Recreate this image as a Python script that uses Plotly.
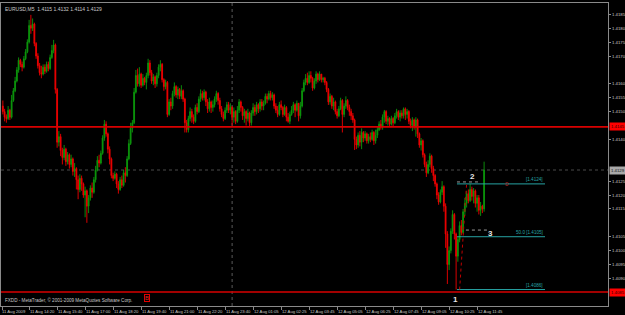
import plotly.graph_objects as go

# ---------------- data (prices in pips above 1.4000) ----------------
BASE = 1.4
PIP = 0.0001

first_open_pips = 152.0
close_pips = [
    150, 148, 147.5, 150.5, 148, 154, 157.5, 161, 165, 168.5,
    167, 166, 169, 171.5, 175, 181, 180, 181.5, 174.5, 170,
    166.5, 164, 163.5, 166, 164.5, 167, 165.5, 169.5, 172, 174,
    158, 139, 141, 136, 133.5, 136.5, 132, 134.5, 131, 133,
    128.5, 129.5, 125.5, 122, 126, 124, 120, 121.5, 116, 119,
    122.5, 121, 125.5, 129, 132.5, 131.5, 135, 140.5, 145.5, 142,
    136.5, 133, 127, 126, 127.5, 124, 122, 125.5, 123.5, 128,
    127, 133, 138.5, 144, 146, 157, 163, 160, 163.5, 159.5,
    162, 160.5, 163, 167.5, 164, 161, 162.5, 160, 163, 166,
    167, 161.5, 159, 160.5, 149, 153.5, 152, 156.5, 159, 156,
    158, 155.5, 157.5, 154.5, 146, 143.5, 147.5, 150, 148, 146.5,
    151.5, 150, 154.5, 156.5, 155, 157, 153.5, 151, 153.5, 151.5,
    152.5, 154.5, 156.5, 154, 151, 149, 147.5, 150.5, 152.5, 150.5,
    151.5, 148, 150, 146.5, 150.5, 153.5, 151.5, 148.5, 150, 147.5,
    149.5, 146, 149.5, 151.5, 150, 152.5, 151, 153.5, 152, 153,
    155.5, 154.5, 156.5, 155, 156, 152, 150.5, 149, 152.5, 151.5,
    149, 151.5, 148, 146.5, 149, 150.5, 152.5, 150.5, 153, 148.5,
    152, 157.5, 160.5, 162, 160.5, 163, 162, 158.5, 161, 163.5,
    161.5, 163.5, 161.5, 162, 160.5, 158, 153.5, 155.5, 152, 153.5,
    150, 148.5, 151, 154, 149, 152, 154, 151.5, 150, 148.5,
    147, 140, 138, 141.5, 139, 142.5, 140.5, 142, 139.5, 141,
    140, 142.5, 139.5, 141.5, 143.5, 145.5, 144.5, 148, 150, 146.5,
    147.5, 145.5, 147.5, 146, 148.5, 150, 148, 149.5, 148.5, 151,
    149, 150, 146.5, 145, 147, 144.5, 147, 142, 138, 139.5,
    134.5, 131, 128, 131, 134, 129.5, 127, 124, 120, 117.5,
    121, 123, 116, 106, 95, 100, 107, 113, 106, 98,
    104, 109, 106.5, 114, 117, 120.5, 118, 122, 119.5, 121.5,
    117, 119, 114.5, 116, 115, 129,
]
high_pips = [
    154, 151, 149, 152, 151, 156, 158.5, 162.5, 166, 169.5,
    169, 168, 170, 172.5, 176, 183, 184.8, 183.5, 182, 175,
    171, 167.5, 166.5, 167, 167, 168, 168, 170.5, 174, 175.8,
    174.5, 158.5, 143, 142, 137, 138, 137, 135.5, 135, 134.5,
    133.5, 131.5, 130, 127, 127.5, 127, 124.5, 123, 122, 120,
    123.5, 124.5, 126.5, 130.5, 134, 134.5, 136, 141.5, 147, 146.5,
    142.5, 137.5, 133.5, 128, 128.5, 128, 125, 126.5, 127, 129,
    130, 134, 140, 146, 147, 158.5, 165, 165.5, 166, 164,
    163.5, 162.5, 164, 169, 168.5, 165, 163.5, 163, 164, 167,
    168.5, 167.5, 162, 161.5, 161, 154.5, 155, 157.5, 160.5, 159.5,
    159, 158.5, 159.5, 158, 155, 147, 148.5, 151.5, 151, 149,
    152.5, 153, 155.5, 158, 157.5, 158, 157.5, 154.5, 155, 154,
    154, 155.5, 157.5, 157, 155, 152, 150, 151.5, 153.5, 153.5,
    153, 152, 151.5, 150.5, 152, 154.5, 154, 152, 151, 150.5,
    151, 150, 150.5, 153, 152.5, 153.5, 153, 154.5, 154.5, 154,
    156.5, 156.5, 157.5, 157.5, 157, 156.5, 153, 152, 153.5, 154,
    152, 152.5, 152, 149.5, 150, 152, 153.5, 153, 154, 153,
    153.5, 158.5, 161.5, 163.5, 164, 164.5, 164.5, 162.5, 162, 164.5,
    164, 164.5, 163.5, 162.5, 162.5, 161, 158.5, 156.5, 156, 155,
    154, 151, 152, 155, 154.5, 153, 155.5, 154.5, 152.5, 151,
    149.5, 147.5, 141, 142.5, 143, 144, 143, 143, 142.5, 142,
    142.5, 143.5, 143, 143.5, 144.5, 146.5, 147, 149, 150.6, 150.5,
    148.5, 148, 148.5, 148, 149.5, 151, 150.5, 150.5, 150.5, 151.5,
    151.5, 151, 150.5, 147.5, 148, 147.5, 148, 147.5, 142.5, 140.5,
    140, 135, 132, 132.5, 135, 134.5, 130.5, 127.5, 124.5, 121,
    122, 125, 123.5, 117, 107, 101.5, 108, 114.5, 113.5, 106.5,
    105, 110.5, 111, 115, 119, 121.5, 122, 124, 123, 122.5,
    122, 120, 120, 117.5, 116.5, 132,
]
low_pips = [
    149, 146.5, 146, 147, 147, 147.5, 153.5, 157, 160.5, 164,
    166, 164.5, 165.5, 168.5, 171, 174.5, 178, 179, 173.5, 169,
    165.5, 163, 162, 163, 163.5, 164, 164.5, 165, 169, 171,
    156.5, 137, 137.5, 134, 131, 132.5, 130.5, 131, 129.5, 130,
    127, 126.5, 122, 118.5, 121, 121.5, 119, 112, 110, 113.5,
    118, 119, 120.5, 124.5, 128.5, 130, 131, 134.5, 139.5, 141,
    135, 131, 126, 125, 125.5, 122.5, 120.5, 121.5, 122.5, 123,
    124.5, 126.5, 132.5, 138, 142.5, 145.5, 156.5, 159, 159, 158.5,
    159, 159.5, 158, 162, 163, 160, 159.5, 158.5, 159, 162,
    164.5, 160.5, 157.5, 158, 148, 148.5, 150.5, 151, 155.5, 155,
    154.5, 154.5, 154.5, 153.5, 142.5, 142.5, 142.5, 146.5, 146, 145.5,
    146, 149, 149.5, 153.5, 154, 154, 152, 149.5, 150, 149.5,
    150, 151.5, 153.5, 152.5, 150, 148, 146.5, 147, 149.5, 149.5,
    149, 145, 146, 145.5, 146, 149.5, 150, 147, 146, 145,
    146.5, 144.5, 145, 148.5, 148.5, 149, 149.5, 150, 150.5, 150.5,
    152.5, 153, 154, 154, 154, 151, 149.5, 148, 148.5, 150.5,
    148, 148.5, 146.5, 146, 145.5, 148.5, 149.5, 148, 150, 146.5,
    147.5, 151.5, 157, 159.5, 159.5, 160, 160.5, 157.5, 158, 160,
    160.5, 161, 160.5, 160.5, 159.5, 157, 152.4, 152.5, 151, 150.5,
    149, 147.5, 148, 150.5, 142.5, 148, 151, 150.5, 148.5, 147,
    146, 136.2, 136.5, 137, 137.5, 136.5, 139, 139.5, 138.5, 138.5,
    139, 139.5, 138, 138.5, 140.5, 143, 143.5, 143.5, 146, 145.5,
    145, 144.5, 145, 144.5, 145.5, 147.5, 147, 146.5, 147.5, 147.5,
    147, 147.5, 145.5, 144, 143, 143.5, 141, 140.5, 137, 136,
    133.5, 130, 126.5, 127.5, 130, 128, 125, 123, 118.5, 116.5,
    117, 120, 114, 101, 88, 93, 99, 106, 104, 86,
    96, 103, 105.5, 106, 112.5, 115.5, 117, 117.5, 118, 117,
    115.5, 114, 113, 112.5, 113.5, 114,
]

time_label_bars = [0, 15, 31, 47, 63, 79, 95, 111, 127, 143, 159, 175, 191, 207, 223, 239, 255, 271]
time_labels = ["11 Aug 2009", "11 Aug 14:20", "11 Aug 15:40", "11 Aug 17:00", "11 Aug 18:20",
               "11 Aug 19:40", "11 Aug 21:00", "11 Aug 22:20", "11 Aug 23:40", "12 Aug 01:05",
               "12 Aug 02:25", "12 Aug 03:45", "12 Aug 05:05", "12 Aug 06:25", "12 Aug 07:45",
               "12 Aug 09:05", "12 Aug 10:25", "12 Aug 11:45"]

price_ticks = [1.4185, 1.4180, 1.4175, 1.4170, 1.4160, 1.4155, 1.4150, 1.4140,
               1.4125, 1.4120, 1.4115, 1.4105, 1.4100, 1.4095, 1.4090]
price_tick_labels = ["1.4185", "1.4180", "1.4175", "1.4170", "1.4160", "1.4155", "1.4150", "1.4140",
                     "1.4125", "1.4120", "1.4115", "1.4105", "1.4100", "1.4095", "1.4090"]

header_text = "EURUSD,M5  1.4115 1.4132 1.4114 1.4129"
copyright_text = "FXDD - MetaTrader, © 2001-2009 MetaQuotes Software Corp."

red_levels = [1.41445, 1.40851]
red_level_labels = ["1.4145", "1.4085"]
bid_price = 1.4129
bid_label = "1.4129"
separator_bar = 131

fib_start_bar = 259.5
fib_end_bar = 309.8
fib_levels = [1.4124, 1.4105, 1.4086]
fib_labels = ["[1.4124]", "50.0 [1.4105]", "[1.4086]"]

wave_points_bar = [258.5, 268.5, 278.5]
wave_points_price = [1.40825, 1.41265, 1.41060]
wave_labels = ["1", "2", "3"]

# ---------------- figure ----------------
closes = [BASE + v * PIP for v in close_pips]
highs = [BASE + v * PIP for v in high_pips]
lows = [BASE + v * PIP for v in low_pips]
opens = [BASE + first_open_pips * PIP] + closes[:-1]   # M5 bars open at previous close
bars = list(range(len(closes)))

BULL = "#0C980C"
BEAR = "#F00000"
AXIS = "#8a8a8a"
TXT = "#c8c8c8"
TEAL = "#27a3a3"
FONT = "Liberation Sans, Arial, sans-serif"
TICK_FS = 4.3

fig = go.Figure()
fig.add_trace(go.Candlestick(
    x=bars, open=opens, high=highs, low=lows, close=closes,
    increasing=dict(line=dict(color=BULL, width=0.9), fillcolor=BULL),
    decreasing=dict(line=dict(color=BEAR, width=0.9), fillcolor=BEAR),
    whiskerwidth=0, hoverinfo="skip", showlegend=False,
))

shapes = []
for lv in red_levels:
    shapes.append(dict(type="line", xref="paper", x0=0, x1=1, yref="y", y0=lv, y1=lv,
                       line=dict(color="#D80000", width=1.6), layer="above"))
shapes.append(dict(type="line", xref="paper", x0=0, x1=1, yref="y", y0=bid_price, y1=bid_price,
                   line=dict(color="#4a4a4a", width=1, dash="dot"), layer="below"))
shapes.append(dict(type="line", xref="x", x0=separator_bar, x1=separator_bar, yref="paper", y0=0, y1=1,
                   line=dict(color="#5a5a5a", width=1, dash="dot"), layer="below"))
for lv in fib_levels:
    shapes.append(dict(type="line", xref="x", x0=fib_start_bar, x1=fib_end_bar, yref="y", y0=lv, y1=lv,
                       line=dict(color=TEAL, width=1), layer="above"))
shapes.append(dict(type="line", xref="x", x0=fib_start_bar + 1.5, x1=fib_start_bar + 5.5,
                   yref="y", y0=fib_levels[2], y1=fib_levels[0],
                   line=dict(color="#C00000", width=1, dash="dot"), layer="above"))
shapes.append(dict(type="line", xref="x", x0=fib_start_bar, x1=273, yref="y", y0=1.41247, y1=1.41247,
                   line=dict(color="#9a9a9a", width=1, dash="dot"), layer="above"))
shapes.append(dict(type="line", xref="x", x0=264.6, x1=276.6, yref="y", y0=1.41074, y1=1.41074,
                   line=dict(color="#9a9a9a", width=1, dash="dot"), layer="above"))

annotations = []
for b, t in zip(time_label_bars, time_labels):
    annotations.append(dict(x=b, xref="x", y=0, yref="paper", text=t, showarrow=False,
                            xanchor="left", yanchor="top", yshift=-1, xshift=-1 if b else -3,
                            font=dict(size=4.2, color=TXT, family=FONT)))
for v, t in zip(price_ticks, price_tick_labels):
    annotations.append(dict(x=1, xref="paper", y=v, yref="y", text=t, showarrow=False,
                            xanchor="left", yanchor="middle", xshift=2,
                            font=dict(size=TICK_FS, color=TXT, family=FONT)))
annotations.append(dict(x=0, xref="paper", y=1, yref="paper", text=header_text, showarrow=False,
                        xanchor="left", yanchor="top", xshift=2, yshift=-1,
                        font=dict(size=5, color=TXT, family=FONT)))
annotations.append(dict(x=0, xref="paper", y=0, yref="paper", text=copyright_text, showarrow=False,
                        xanchor="left", yanchor="bottom", xshift=2, yshift=1,
                        font=dict(size=4.6, color=TXT, family=FONT)))
for lv, lab in zip(red_levels, red_level_labels):
    annotations.append(dict(x=1, xref="paper", y=lv, yref="y", text=lab, showarrow=False,
                            xanchor="left", yanchor="middle", xshift=1, bgcolor="#FF0000",
                            borderpad=1, font=dict(size=TICK_FS, color="#300000", family=FONT)))
annotations.append(dict(x=1, xref="paper", y=bid_price, yref="y", text=bid_label, showarrow=False,
                        xanchor="left", yanchor="middle", xshift=1, bgcolor="#A8A8A8",
                        borderpad=1, font=dict(size=TICK_FS, color="#101010", family=FONT)))
for lv, lab in zip(fib_levels, fib_labels):
    annotations.append(dict(x=fib_end_bar, xref="x", y=lv, yref="y", text=lab, showarrow=False,
                            xanchor="right", yanchor="bottom", yshift=0,
                            font=dict(size=4.6, color=TEAL, family=FONT)))
for b, p, lab in zip(wave_points_bar, wave_points_price, wave_labels):
    annotations.append(dict(x=b, xref="x", y=p, yref="y", text="<b>" + lab + "</b>", showarrow=False,
                            xanchor="center", yanchor="middle",
                            font=dict(size=8, color="#e6e6e6", family=FONT)))
annotations.append(dict(x=288, xref="x", y=1.41238, yref="y", text="0", showarrow=False,
                        xanchor="center", yanchor="middle",
                        font=dict(size=6, color="#C02020", family=FONT)))
annotations.append(dict(x=82.4, xref="x", y=1.40830, yref="y", text="B", showarrow=False,
                        xanchor="center", yanchor="middle", bordercolor="#E00000", borderwidth=1,
                        borderpad=0, font=dict(size=6, color="#E02020", family=FONT)))

fig.update_layout(
    template="none",
    width=625, height=315,
    margin=dict(l=1, r=17, t=3, b=9, pad=0),
    paper_bgcolor="#000000", plot_bgcolor="#000000",
    showlegend=False,
    shapes=shapes, annotations=annotations,
    font=dict(family=FONT, size=5, color=TXT),
    xaxis=dict(range=[-1.07, 345.8], showgrid=False, zeroline=False, showline=True, mirror=True,
               linecolor=AXIS, linewidth=1, ticks="outside", ticklen=3, tickcolor=AXIS,
               tickvals=time_label_bars, showticklabels=False, rangeslider=dict(visible=False),
               fixedrange=True, automargin=False),
    yaxis=dict(range=[1.408008, 1.418907], side="right", showgrid=False, zeroline=False,
               showline=True, mirror=True, linecolor=AXIS, linewidth=1, ticks="outside",
               ticklen=2, tickcolor=AXIS, tickvals=price_ticks, showticklabels=False,
               fixedrange=True, automargin=False),
)

fig.write_html("out.html", include_plotlyjs=True, config={"displayModeBar": False, "staticPlot": True})
